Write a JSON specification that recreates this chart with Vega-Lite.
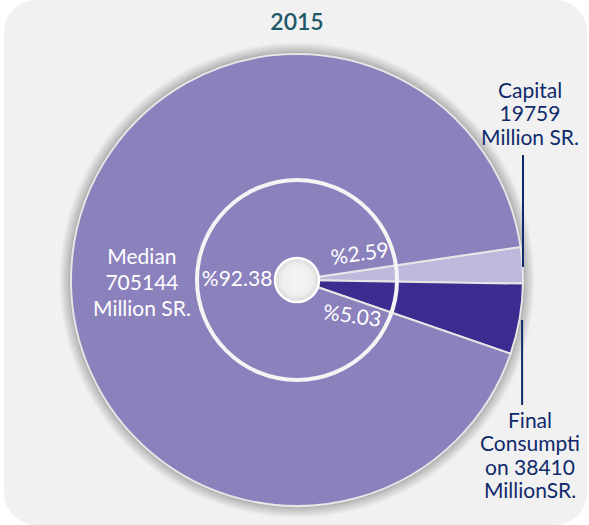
{
  "$schema": "https://vega.github.io/schema/vega-lite/v6.json",
  "width": 584,
  "height": 490,
  "autosize": {"type": "none"},
  "padding": {"left": 5, "top": 35, "right": 0, "bottom": 0},
  "background": "white",
  "config": {"view": {"stroke": null}},
  "datasets": {
    "slices": [
      {"category": "Capital", "value": 19759, "order": 1},
      {"category": "Final", "value": 38410, "order": 2},
      {"category": "Median", "value": 705144, "order": 3}
    ],
    "panel": [{"x1": -1.296, "x2": 1.283, "y1": 1.239, "y2": -1.084}],
    "one": [{"k": 1}],
    "navyLabels": [
      {"x": 1.031, "y": 0.832, "label": "Capital\n19759\nMillion SR."},
      {"x": 1.031, "y": -0.628, "label": "Final\nConsumpti\non 38410\nMillionSR."}
    ],
    "whiteLabels": [
      {"x": -0.686, "y": 0.097, "label": "Median\n705144\nMillion SR."},
      {"x": -0.265, "y": 0.0, "label": "%92.38"}
    ],
    "pctUp": [{"x": 0.279, "y": 0.111, "label": "%2.59"}],
    "pctDown": [{"x": 0.243, "y": -0.164, "label": "%5.03"}],
    "title": [{"x": 0.0, "y": 1.135, "label": "2015"}],
    "leaders": [
      {"x": 1.0, "y": 0.553, "y2": 0.058},
      {"x": 0.996, "y": -0.177, "y2": -0.553}
    ]
  },
  "layer": [
    {
      "data": {"name": "panel"},
      "mark": {"type": "rect", "fill": "#f1f1f1", "cornerRadius": 32},
      "encoding": {
        "x": {"field": "x1", "type": "quantitative", "scale": {"domain": [-1.292, 1.292], "nice": false, "zero": false}, "axis": null},
        "x2": {"field": "x2"},
        "y": {"field": "y1", "type": "quantitative", "scale": {"domain": [-1.084, 1.084], "nice": false, "zero": false}, "axis": null},
        "y2": {"field": "y2"}
      }
    },
    {
      "data": {"name": "one"},
      "mark": {
        "type": "arc", "theta": 0, "theta2": 6.2832, "outerRadius": 238,
        "fill": {"gradient": "radial", "x1": 0.5, "y1": 0.5, "r1": 0, "x2": 0.5, "y2": 0.5, "r2": 0.5,
          "stops": [{"offset": 0.93, "color": "#6a6a6a"}, {"offset": 0.96, "color": "#bdbdbd"}, {"offset": 1, "color": "#f1f1f1"}]}
      },
      "encoding": {}
    },
    {
      "data": {"name": "slices"},
      "mark": {"type": "arc", "outerRadius": 226, "stroke": "#e6e6e6", "strokeWidth": 2},
      "encoding": {
        "theta": {"field": "value", "type": "quantitative", "stack": true, "scale": {"range": [1.424, 7.707]}},
        "order": {"field": "order", "type": "quantitative"},
        "color": {"field": "category", "type": "nominal", "scale": {"domain": ["Capital", "Final", "Median"], "range": ["#bfb8dd", "#3b2d90", "#8b81bd"]}, "legend": null}
      }
    },
    {
      "data": {"name": "one"},
      "mark": {"type": "arc", "theta": 0, "theta2": 6.2832, "innerRadius": 98, "outerRadius": 102, "fill": "#f4f4f4"},
      "encoding": {}
    },
    {
      "data": {"name": "one"},
      "mark": {
        "type": "arc", "theta": 0, "theta2": 6.2832, "outerRadius": 22, "stroke": "#ffffff", "strokeWidth": 2.5,
        "fill": {"gradient": "radial", "x1": 0.5, "y1": 0.5, "r1": 0, "x2": 0.5, "y2": 0.5, "r2": 0.5,
          "stops": [{"offset": 0, "color": "#f6f6f6"}, {"offset": 0.7, "color": "#efefef"}, {"offset": 1, "color": "#d8d8d8"}]}
      },
      "encoding": {}
    },
    {
      "data": {"name": "leaders"},
      "mark": {"type": "rule", "color": "#0f2a6b", "strokeWidth": 2},
      "encoding": {
        "x": {"field": "x", "type": "quantitative"},
        "y": {"field": "y", "type": "quantitative"},
        "y2": {"field": "y2"}
      }
    },
    {
      "data": {"name": "navyLabels"},
      "mark": {"type": "text", "font": "Lato", "fontSize": 21, "color": "#0f2a6b", "lineBreak": "\n", "lineHeight": 23.5, "align": "center", "baseline": "middle"},
      "encoding": {
        "x": {"field": "x", "type": "quantitative"},
        "y": {"field": "y", "type": "quantitative"},
        "text": {"field": "label"}
      }
    },
    {
      "data": {"name": "whiteLabels"},
      "mark": {"type": "text", "font": "Lato", "fontSize": 21, "color": "#ffffff", "lineBreak": "\n", "lineHeight": 26, "align": "center", "baseline": "middle"},
      "encoding": {
        "x": {"field": "x", "type": "quantitative"},
        "y": {"field": "y", "type": "quantitative"},
        "text": {"field": "label"}
      }
    },
    {
      "data": {"name": "pctUp"},
      "mark": {"type": "text", "font": "Lato", "fontSize": 21, "color": "#ffffff", "angle": 352, "align": "center", "baseline": "middle"},
      "encoding": {
        "x": {"field": "x", "type": "quantitative"},
        "y": {"field": "y", "type": "quantitative"},
        "text": {"field": "label"}
      }
    },
    {
      "data": {"name": "pctDown"},
      "mark": {"type": "text", "font": "Lato", "fontSize": 21, "color": "#ffffff", "angle": 8, "align": "center", "baseline": "middle"},
      "encoding": {
        "x": {"field": "x", "type": "quantitative"},
        "y": {"field": "y", "type": "quantitative"},
        "text": {"field": "label"}
      }
    },
    {
      "data": {"name": "title"},
      "mark": {"type": "text", "font": "Lato", "fontSize": 23, "fontWeight": 600, "color": "#1f5868", "align": "center", "baseline": "middle"},
      "encoding": {
        "x": {"field": "x", "type": "quantitative"},
        "y": {"field": "y", "type": "quantitative"},
        "text": {"field": "label"}
      }
    }
  ]
}
